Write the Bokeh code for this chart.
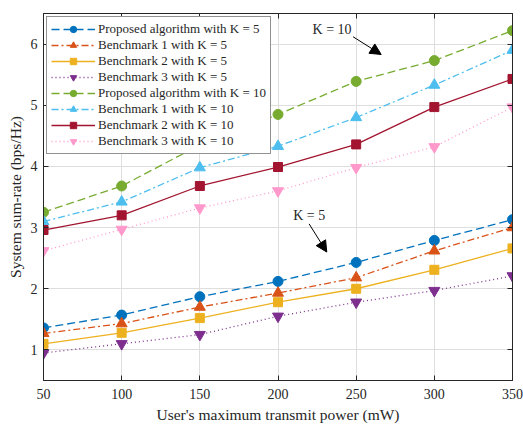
from bokeh.plotting import figure
from bokeh.models import (Range1d, FixedTicker, LinearAxis, Legend, LegendItem,
                          Arrow, NormalHead, Label)
from bokeh.embed import file_html
from bokeh.resources import INLINE

power = [50, 100, 150, 200, 250, 300, 350]
x_ticks = [50, 100, 150, 200, 250, 300, 350]
y_ticks = [1, 2, 3, 4, 5, 6]

prop_k5 = [1.36, 1.57, 1.87, 2.12, 2.43, 2.79, 3.13]
b1_k5 = [1.27, 1.43, 1.70, 1.93, 2.18, 2.62, 3.00]
b2_k5 = [1.10, 1.28, 1.52, 1.78, 2.00, 2.31, 2.66]
b3_k5 = [0.95, 1.10, 1.25, 1.55, 1.78, 1.97, 2.21]
prop_k10 = [3.25, 3.68, 4.35, 4.85, 5.39, 5.73, 6.22]
b1_k10 = [3.10, 3.42, 3.98, 4.33, 4.80, 5.33, 5.90]
b2_k10 = [2.96, 3.20, 3.68, 3.99, 4.36, 4.97, 5.43]
b3_k10 = [2.62, 2.97, 3.32, 3.60, 3.98, 4.32, 4.97]

labels = ["Proposed algorithm with K = 5", "Benchmark 1 with K = 5",
          "Benchmark 2 with K = 5", "Benchmark 3 with K = 5",
          "Proposed algorithm with K = 10", "Benchmark 1 with K = 10",
          "Benchmark 2 with K = 10", "Benchmark 3 with K = 10"]
series = [prop_k5, b1_k5, b2_k5, b3_k5, prop_k10, b1_k10, b2_k10, b3_k10]
colors = ["#0072BD", "#D95319", "#EDB120", "#7E2F8E",
          "#77AC30", "#4DBEEE", "#A2142F", "#FF99CC"]
markers = ["circle", "triangle", "square", "inverted_triangle"] * 2
dashes = ["8 4", "7 3 2 3", "solid", "1 3"] * 2
msizes = {"circle": 10, "triangle": 11, "square": 9, "inverted_triangle": 11}

FONT = "Liberation Serif"
TXT = "#262626"

p = figure(width=523, height=425, output_backend="svg", toolbar_location=None,
           x_range=Range1d(50, 350), y_range=Range1d(0.5, 6.5),
           min_border_left=43, min_border_right=11, min_border_top=13,
           min_border_bottom=42)
p.outline_line_color = TXT
p.outline_line_width = 1
p.background_fill_color = "white"

for ax in [p.xaxis[0], p.yaxis[0]]:
    ax.major_tick_in = 5
    ax.major_tick_out = 0
    ax.minor_tick_line_color = None
    ax.axis_line_color = TXT
    ax.major_tick_line_color = TXT
    ax.major_label_text_font = FONT
    ax.major_label_text_font_size = "14px"
    ax.major_label_text_color = TXT
    ax.axis_label_text_font = FONT
    ax.axis_label_text_font_size = "15.5px"
    ax.axis_label_text_font_style = "normal"
    ax.axis_label_text_color = TXT
p.xaxis[0].ticker = FixedTicker(ticks=x_ticks)
p.yaxis[0].ticker = FixedTicker(ticks=y_ticks)
p.xaxis[0].axis_label = "User's maximum transmit power (mW)"
p.yaxis[0].axis_label = "System sum-rate (bps/Hz)"
p.xaxis[0].major_label_standoff = 8
p.xaxis[0].axis_label_standoff = 4
p.yaxis[0].major_label_standoff = 6
p.yaxis[0].axis_label_standoff = 4

for loc, tk in [("right", y_ticks), ("above", x_ticks)]:
    a = LinearAxis(ticker=FixedTicker(ticks=tk), major_tick_in=5, major_tick_out=0,
                   minor_tick_line_color=None,
                   major_label_overrides={t: "" for t in tk},
                   axis_line_color=TXT, major_tick_line_color=TXT,
                   major_label_standoff=0)
    p.add_layout(a, loc)

p.xgrid.ticker = FixedTicker(ticks=x_ticks)
p.ygrid.ticker = FixedTicker(ticks=y_ticks)
p.grid.grid_line_color = "#dedede"
p.grid.grid_line_width = 1

items = []
for lab, ys, c, m, d in zip(labels, series, colors, markers, dashes):
    r1 = p.line(power, ys, line_color=c, line_width=1.3, line_dash=d)
    r2 = p.scatter(power, ys, marker=m, size=msizes[m], fill_color=c, line_color=c)
    items.append(LegendItem(label=lab, renderers=[r1, r2]))

legend = Legend(items=items, location="top_left", margin=3,
                label_text_font=FONT, label_text_font_size="13px",
                label_text_color=TXT, glyph_width=44, glyph_height=16,
                label_height=16, spacing=0, padding=4, label_standoff=3,
                border_line_color=TXT, border_line_width=1,
                background_fill_alpha=1)
p.add_layout(legend, "center")

p.add_layout(Label(x=234.6, y=6.24, text="K = 10", text_font=FONT,
                   text_font_size="14px", text_color=TXT,
                   text_align="center", text_baseline="middle"))
p.add_layout(Label(x=220, y=3.20, text="K = 5", text_font=FONT,
                   text_font_size="14px", text_color=TXT,
                   text_align="center", text_baseline="middle"))
p.add_layout(Arrow(x_start=248, y_start=6.12, x_end=266, y_end=5.83,
                   line_color="black", line_width=1,
                   end=NormalHead(size=11, fill_color="black", line_color="black")))
p.add_layout(Arrow(x_start=219.9, y_start=3.06, x_end=231.2, y_end=2.60,
                   line_color="black", line_width=1,
                   end=NormalHead(size=11, fill_color="black", line_color="black")))

open("out.html", "w").write(file_html(p, INLINE))
